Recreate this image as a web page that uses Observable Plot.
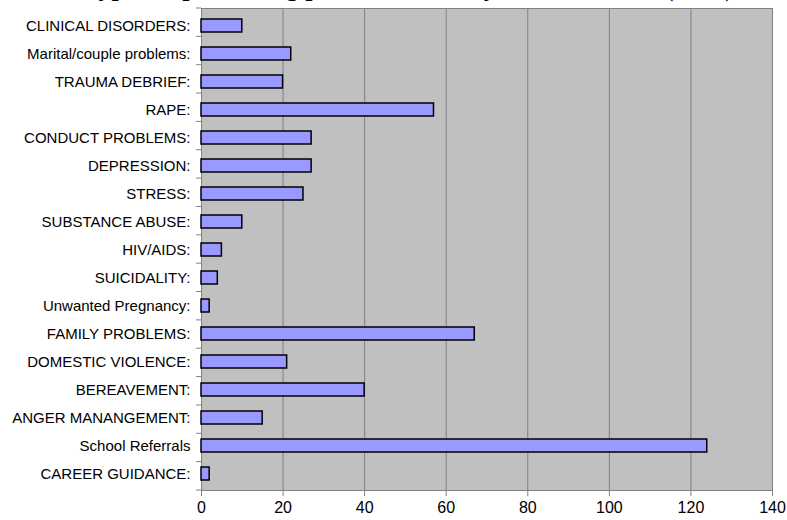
<!DOCTYPE html>
<html>
<head>
<meta charset="utf-8">
<script src="https://cdn.jsdelivr.net/npm/d3@7"></script>
<script src="https://cdn.jsdelivr.net/npm/@observablehq/plot@0.6"></script>
<style>
  html, body { margin: 0; padding: 0; background: #fff; overflow: hidden; }
  #wrap { position: relative; width: 787px; height: 520px; }
  #title { position: absolute; left: 0; width: 787px; top: -27px; text-align: center; line-height: 30px;
           font: bold 26px "Liberation Serif", "DejaVu Serif", serif; color: #000; padding-left: 30px; box-sizing: border-box; white-space: nowrap; }
  #chart { position: absolute; left: 0; top: 0; }
</style>
</head>
<body>
<div id="wrap">
  <div id="chart"></div>
  <div id="title">Types of presenting problems seen by the counsellor (2003)</div>
</div>
<script>
const categories = [
  "CLINICAL DISORDERS:",
  "Marital/couple problems:",
  "TRAUMA DEBRIEF:",
  "RAPE:",
  "CONDUCT PROBLEMS:",
  "DEPRESSION:",
  "STRESS:",
  "SUBSTANCE ABUSE:",
  "HIV/AIDS:",
  "SUICIDALITY:",
  "Unwanted Pregnancy:",
  "FAMILY PROBLEMS:",
  "DOMESTIC VIOLENCE:",
  "BEREAVEMENT:",
  "ANGER MANANGEMENT:",
  "School Referrals",
  "CAREER GUIDANCE:"
];
const counts = [10, 22, 20, 57, 27, 27, 25, 10, 5, 4, 2, 67, 21, 40, 15, 124, 2];
const xTicks = [0, 20, 40, 60, 80, 100, 120, 140];

const data = categories.map((c, i) => ({category: c, count: counts[i]}));

const plot = Plot.plot({
  width: 787,
  height: 520,
  marginLeft: 201,
  marginRight: 15,
  marginTop: 8,
  marginBottom: 30,
  style: {fontFamily: "'Liberation Sans', Arial, sans-serif", background: "#fff", color: "#000"},
  x: {domain: [0, 140], ticks: xTicks, label: null},
  y: {domain: categories, paddingInner: 0.55, paddingOuter: 0.275, label: null},
  marks: [
    Plot.frame({fill: "#c0c0c0", stroke: "none"}),
    Plot.ruleX(xTicks, {stroke: "#808080", strokeWidth: 1}),
    Plot.frame({stroke: "#808080", strokeWidth: 1}),
    Plot.barX(data, {x: "count", y: "category", fill: "#9999ff", stroke: "#000", strokeWidth: 1.5}),
    Plot.axisX({ticks: xTicks, tickSize: 6, tickPadding: 5, stroke: "#808080", fontSize: 16, label: null, tickFormat: d => String(d)}),
    Plot.axisY({tickSize: 0, tickPadding: 11, fontSize: 15, label: null})
  ]
});

// small boundary ticks on the category axis, placed via the plot's band scale
const y = plot.scale("y");
const target = d3.select(plot.tagName.toLowerCase() === "svg" ? plot : plot.querySelector("svg"));
const n = categories.length;
const boundaries = d3.range(n + 1).map(i => y.range[0] + i * ((y.range[1] - y.range[0]) / n));
target.append("g").selectAll("line").data(boundaries).join("line")
  .attr("x1", 196).attr("x2", 201)
  .attr("y1", d => d).attr("y2", d => d)
  .attr("stroke", "#808080").attr("stroke-width", 1);

document.getElementById("chart").appendChild(plot);
</script>
</body>
</html>
